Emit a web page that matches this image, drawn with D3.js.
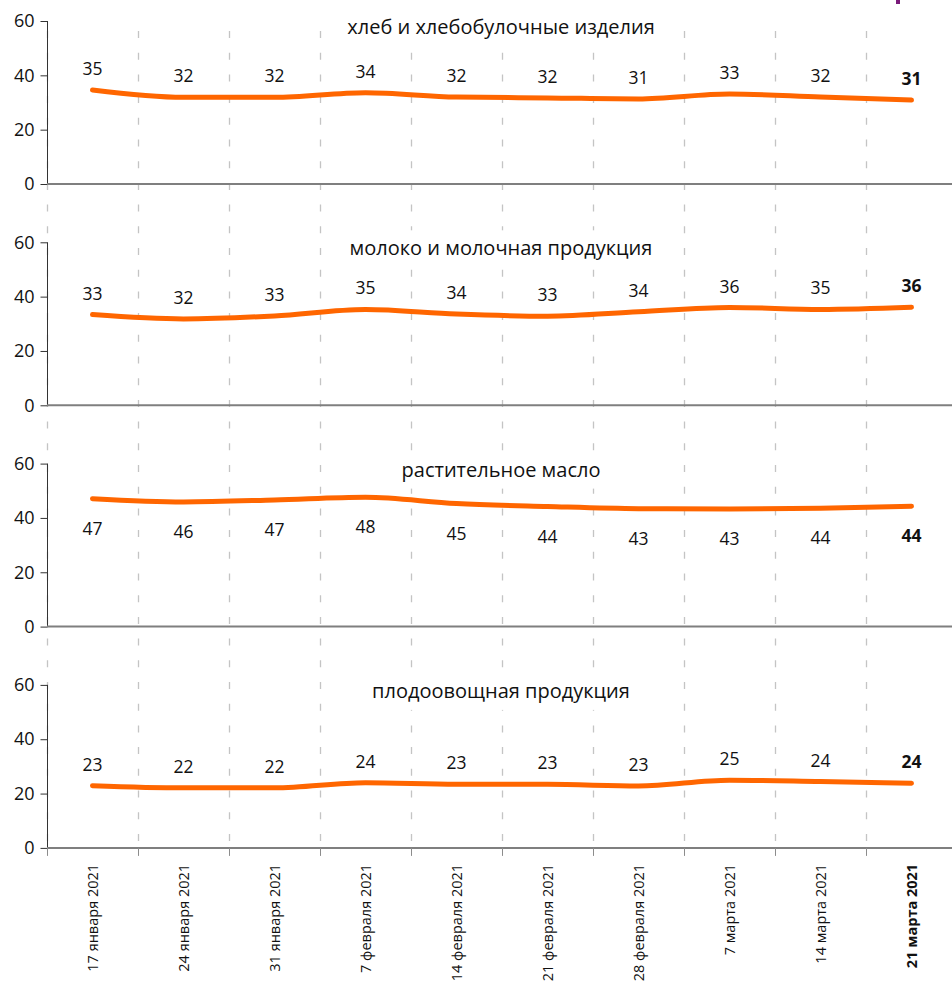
<!DOCTYPE html>
<html>
<head>
<meta charset="utf-8">
<script src="https://cdn.jsdelivr.net/npm/d3@7"></script>
<style>
  html, body { margin: 0; padding: 0; background: #fff; }
  svg { display: block; font-family: "Open Sans", "Noto Sans", sans-serif; }
</style>
</head>
<body>
<div id="chart"></div>
<script>
const DATES = [
  "17 января 2021", "24 января 2021", "31 января 2021", "7 февраля 2021",
  "14 февраля 2021", "21 февраля 2021", "28 февраля 2021", "7 марта 2021",
  "14 марта 2021", "21 марта 2021",
];
const TITLES = [
  "хлеб и хлебобулочные изделия",
  "молоко и молочная продукция",
  "растительное масло",
  "плодоовощная продукция",
];
const BREAD = [34.6, 31.9, 31.9, 33.6, 32.0, 31.7, 31.3, 33.1, 32.0, 30.9];
const MILK = [33.4, 31.8, 32.9, 35.3, 33.6, 32.8, 34.4, 36.0, 35.3, 36.1];
const OIL = [47.1, 45.9, 46.6, 47.6, 45.3, 44.2, 43.4, 43.3, 43.6, 44.3];
const VEG = [22.9, 22.1, 22.1, 24.0, 23.4, 23.4, 22.8, 24.9, 24.4, 23.8];
const Y_TICKS = [0, 20, 40, 60];
const LABEL_BELOW = [false, false, true, false];

const SERIES = [BREAD, MILK, OIL, VEG];

const width = 952;
const height = 985;
const left = 47;
const step = 91;
const panelTop = 21;
const panelStep = 221.3;
const panelHeight = 163;

const svg = d3.select("#chart")
  .append("svg")
  .attr("width", width)
  .attr("height", height);

const x = d3.scaleBand()
  .domain(DATES)
  .range([left, left + step * DATES.length]);

const lastPanelBottom = panelTop + panelStep * 3 + panelHeight;

// dashed verticals at band boundaries
const bounds = DATES.map((d) => x(d));
svg.append("g")
  .selectAll("line")
  .data(bounds)
  .join("line")
  .attr("x1", (d) => d + 0.5)
  .attr("x2", (d) => d + 0.5)
  .attr("y1", 31)
  .attr("y2", lastPanelBottom)
  .attr("stroke", "#c4c4c4")
  .attr("stroke-width", 1.3)
  .attr("stroke-dasharray", "7,14.7");

const fmt = d3.format(".0f");

SERIES.forEach((values, i) => {
  const top = panelTop + panelStep * i;
  const y = d3.scaleLinear().domain([0, 60]).range([top + panelHeight, top]);
  const g = svg.append("g");

  // title with white box
  const title = g.append("text")
    .attr("x", 501)
    .attr("y", top + 13)
    .attr("text-anchor", "middle")
    .attr("font-size", 20)
    .attr("fill", "#111")
    .text(TITLES[i]);
  const bb = title.node().getBBox();
  g.insert("rect", "text")
    .attr("x", bb.x - 8)
    .attr("y", bb.y - 4)
    .attr("width", bb.width + 16)
    .attr("height", bb.height + 10)
    .attr("fill", "#fff");

  // y axis
  const yAxis = g.append("g")
    .attr("transform", `translate(${left + 0.5},0)`)
    .call(d3.axisLeft(y).tickValues(Y_TICKS).tickSize(7).tickPadding(6));
  yAxis.select(".domain").attr("stroke", "#333").attr("d", `M0,${y(60)}V${y(0)}`);
  yAxis.selectAll(".tick line").attr("stroke", "#333");
  yAxis.selectAll(".tick text")
    .attr("font-size", 18)
    .attr("font-family", "Open Sans, sans-serif")
    .attr("fill", "#111");

  // baseline
  g.append("line")
    .attr("x1", left)
    .attr("x2", width)
    .attr("y1", y(0))
    .attr("y2", y(0))
    .attr("stroke", "#7f7f7f")
    .attr("stroke-width", 2);

  const line = d3.line()
    .x((d, j) => x(DATES[j]) + x.bandwidth() / 2)
    .y((d) => y(d))
    .curve(d3.curveMonotoneX);

  g.append("path")
    .datum(values)
    .attr("d", line)
    .attr("fill", "none")
    .attr("stroke", "#ff6600")
    .attr("stroke-width", 5)
    .attr("stroke-linecap", "round")
    .attr("stroke-linejoin", "round");

  g.append("g")
    .selectAll("text")
    .data(values)
    .join("text")
    .attr("x", (d, j) => x(DATES[j]) + x.bandwidth() / 2)
    .attr("y", (d) => (LABEL_BELOW[i] ? y(d) + 36 : y(d) - 15))
    .attr("text-anchor", "middle")
    .attr("font-size", 17.5)
    .attr("font-weight", (d, j) => (j === values.length - 1 ? "bold" : "normal"))
    .attr("fill", "#111")
    .text((d) => fmt(d));
});

// bottom axis ticks and labels
const xAxis = svg.append("g")
  .attr("transform", `translate(0,${lastPanelBottom})`);
xAxis.selectAll("line")
  .data(bounds)
  .join("line")
  .attr("x1", (d) => d + 0.5)
  .attr("x2", (d) => d + 0.5)
  .attr("y1", 0)
  .attr("y2", 8)
  .attr("stroke", "#8c8c8c");
xAxis.selectAll("text")
  .data(DATES)
  .join("text")
  .attr("transform", (d) => `translate(${x(d) + x.bandwidth() / 2 + 5.5},16) rotate(-90)`)
  .attr("text-anchor", "end")
  .attr("font-size", 14.5)
  .attr("font-weight", (d, j) => (j === DATES.length - 1 ? "bold" : "normal"))
  .attr("fill", "#111")
  .text((d) => d);

// purple corner mark
svg.append("rect")
  .attr("x", 896)
  .attr("y", 0)
  .attr("width", 4)
  .attr("height", 4)
  .attr("fill", "#7a1b7a");
</script>
</body>
</html>
